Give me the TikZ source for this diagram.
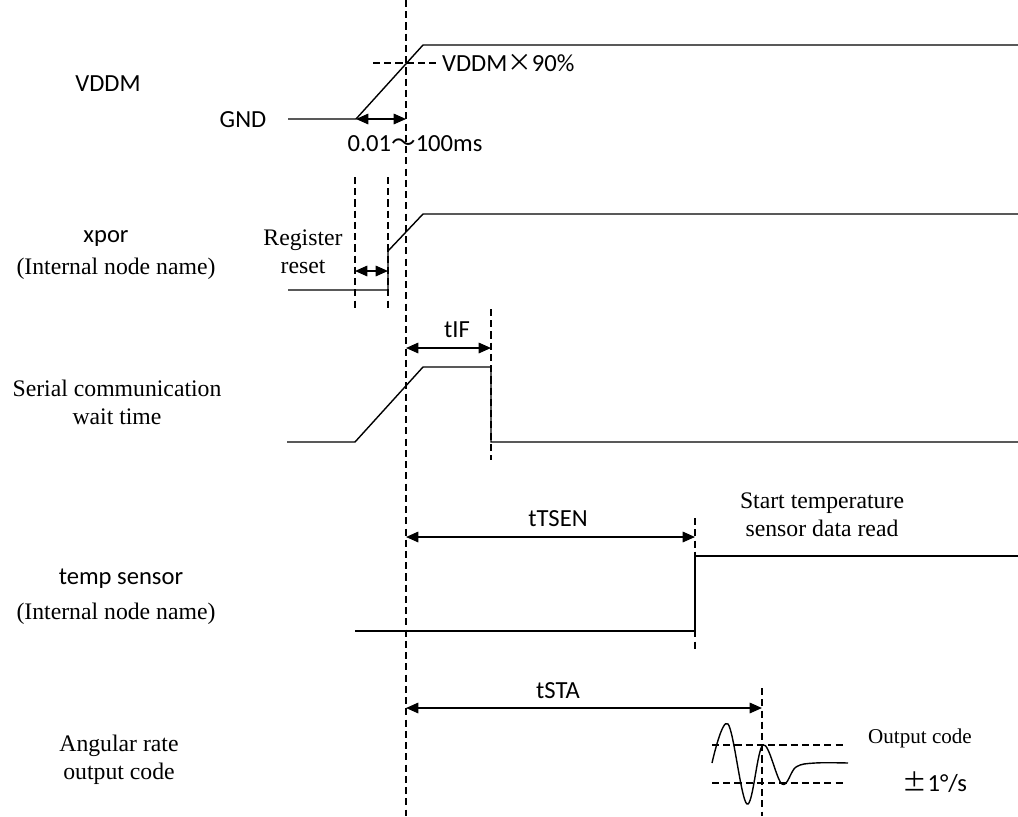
\documentclass[tikz,border=0pt]{standalone}
\usepackage{fontspec}
\setmainfont{Liberation Serif}
\newfontfamily\lblfont{Carlito}
\newfontfamily\cjk{Noto Sans CJK SC}
\usetikzlibrary{arrows.meta}

\begin{document}
\begin{tikzpicture}[x=0.02cm, y=-0.02cm, >={Triangle[length=7pt,width=6pt]},
  sig/.style={line width=0.8pt},
  guide/.style={line width=0.7pt, dash pattern=on 4pt off 2.4pt},
  dim/.style={<->, line width=0.8pt},
  sans/.style={font=\lblfont\fontsize{14}{17}\selectfont},
  serif/.style={font=\fontsize{13.5}{16}\selectfont, align=center}]

  \useasboundingbox (0,0) rectangle (1018,816);

  % Reference line: VDDM at 90%
  \draw[guide] (406,0) -- (406,816);

  % VDDM
  \node[sans] (vddm) at (108,84) {VDDM};
  \node[sans] (gnd) at (243,120) {GND};
  \draw[sig] (288,119) -- (356,119) -- (423,45) -- (1018,45);
  \draw[guide] (373,63) -- (440,63);
  \node[sans, anchor=west, inner sep=1pt] (pct) at (440,63) {VDDM{\cjk ×}90\%};
  \coordinate (vStart) at (356,119);
  \coordinate (vRef) at (406,119);
  \draw[dim] (vStart) -- (vRef);
  \node[sans] (rise) at (415,144) {0.01{\cjk ～}100ms};

  % xpor
  \node[sans] (xpor) at (106,238) {xpor};
  \node[serif] (xporsub) at (116,269) {(Internal node name)};
  \draw[sig] (288,290) -- (388,290) -- (388,251) -- (423,214) -- (1018,214);
  \draw[guide] (355,177) -- (355,310);
  \draw[guide] (388,177) -- (388,310);
  \coordinate (rstA) at (355,271);
  \coordinate (rstB) at (388,271);
  \draw[dim] (rstA) -- (rstB);
  \node[serif] (rst) at (303,252) {Register\\reset};

  % Serial communication wait time
  \node[serif] (serial) at (117,402) {Serial communication\\wait time};
  \draw[sig] (287,442) -- (355,442) -- (423,367) -- (491,367) -- (491,442) -- (1018,442);
  \draw[guide] (491,309) -- (491,460);
  \coordinate (ifA) at (406,348);
  \coordinate (ifB) at (491,348);
  \draw[dim] (ifA) -- (ifB);
  \node[sans] (tif) at (457,330) {tIF};

  % temp sensor
  \node[sans] (temp) at (121,579) {temp sensor};
  \node[serif] (tempsub) at (116,614) {(Internal node name)};
  \draw[sig] (355,631) -- (695,631) -- (695,556) -- (1018,556);
  \draw[guide] (695,518) -- (695,650);
  \coordinate (tsA) at (406,537);
  \coordinate (tsB) at (695,537);
  \draw[dim] (tsA) -- (tsB);
  \node[sans] (ttsen) at (558,519) {tTSEN};
  \node[serif] (tsread) at (822,515) {Start temperature\\sensor data read};

  % Angular rate output code
  \node[serif] (angular) at (119,760) {Angular rate\\ output code};
  \draw[guide] (762,688) -- (762,816);
  \coordinate (staA) at (406,708);
  \coordinate (staB) at (762,708);
  \draw[dim] (staA) -- (staB);
  \node[sans] (tsta) at (558,691) {tSTA};
  \draw[guide] (712,745) -- (843,745);
  \draw[guide] (712,783) -- (843,783);
  \draw[sig] plot[smooth, tension=0.6] coordinates {(712,763) (728,724) (747,804) (763,745) (782,784) (796,767) (815,763) (848,763)};
  \node[serif, font=\fontsize{12}{14}\selectfont] (outcode) at (920,738) {Output code};
  \node[sans] (range) at (935,782) {{\cjk ±}1°/s};

\end{tikzpicture}
\end{document}
